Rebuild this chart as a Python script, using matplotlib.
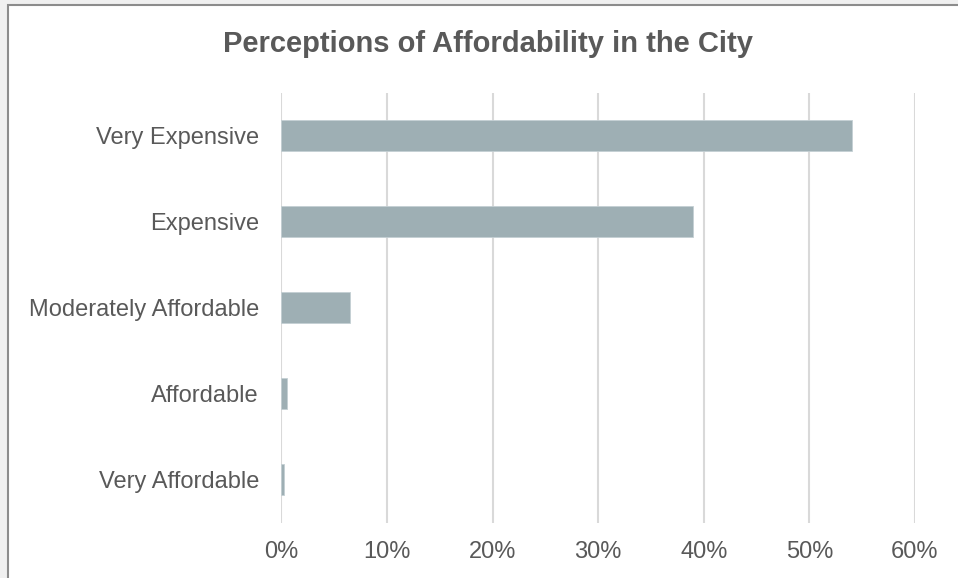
import matplotlib
matplotlib.use("Agg")
import matplotlib.pyplot as plt
from matplotlib.patches import Rectangle
from matplotlib.ticker import FuncFormatter

categories = ["Very Affordable", "Affordable", "Moderately Affordable", "Expensive", "Very Expensive"]
shares = [0.003, 0.005, 0.065, 0.390, 0.540]
x_ticks = [0.0, 0.1, 0.2, 0.3, 0.4, 0.5, 0.6]

W, H, DPI = 958, 578, 100
plt.rcParams["font.family"] = ["Liberation Sans", "DejaVu Sans"]
fig = plt.figure(figsize=(W / DPI, H / DPI), dpi=DPI, facecolor="#f0f0f0")

# white chart panel with a grey frame on its left and top edges
panel = Rectangle((8 / W, -0.05), 1.2, (H - 5) / H + 0.05, transform=fig.transFigure,
                  facecolor="white", edgecolor="#8c8c8c", linewidth=1.5, zorder=-10)
fig.patches.append(panel)

left, right = 281.3 / W, 915 / W
top, bottom = 1 - 92.7 / H, 1 - 522.7 / H
ax = fig.add_axes([left, bottom, right - left, top - bottom])
ax.set_facecolor("none")

ypos = list(range(len(categories)))
ax.barh(ypos, shares, height=0.36, color="#9eafb4", edgecolor="#c4d0d4", linewidth=0.6, zorder=3)

ax.set_xlim(0, 0.6)
ax.set_ylim(-0.5, len(categories) - 0.5)
ax.set_xticks(x_ticks)
ax.xaxis.set_major_formatter(FuncFormatter(lambda v, p: f"{v*100:.0f}%"))
ax.set_yticks(ypos)
ax.set_yticklabels(categories)
ax.grid(axis="x", color="#d9d9d9", linewidth=1.5, zorder=0)
ax.tick_params(axis="both", length=0, labelsize=17, labelcolor="#595959")
ax.tick_params(axis="x", pad=13)
ax.tick_params(axis="y", pad=16)
for s in ax.spines.values():
    s.set_visible(False)

fig.text(488 / W, 1 - 52.5 / H, "Perceptions of Affordability in the City",
         ha="center", va="baseline", fontsize=21, fontweight="bold", color="#595959")

fig.savefig("out.png", dpi=DPI, facecolor=fig.get_facecolor())
